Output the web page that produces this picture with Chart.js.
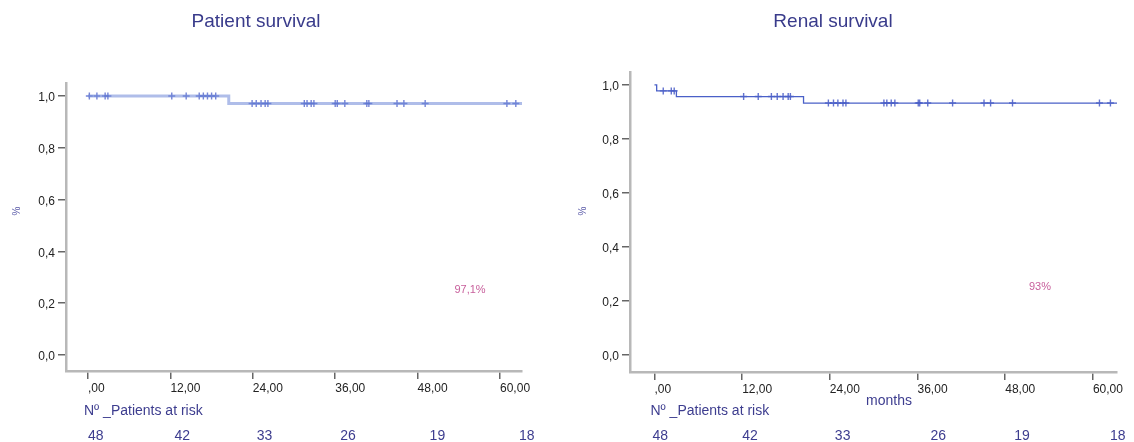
<!DOCTYPE html>
<html>
<head>
<meta charset="utf-8">
<script src="https://cdn.jsdelivr.net/npm/chart.js@4.4.1/dist/chart.umd.min.js"></script>
<style>
  body { margin: 0; background: #fff; }
  #wrap { position: relative; width: 1134px; height: 442px; overflow: hidden; }
  canvas { position: absolute; top: 0; }
</style>
</head>
<body>
<div id="wrap">
  <canvas id="patientChart" width="560" height="442" style="left:0px"></canvas>
  <canvas id="renalChart" width="567" height="442" style="left:567px"></canvas>
</div>
<script>
// axis ticks and the at-risk row (months)
const xTickValues = [0, 12, 24, 36, 48, 60];
const yTickValues = [0, 0.2, 0.4, 0.6, 0.8, 1.0];
const riskTimes = [0, 12, 24, 36, 48, 60];
const patientsAtRisk = [48, 42, 33, 26, 19, 18];

// Patient survival: Kaplan-Meier steps and censored times
const patientStepTimes = [0, 20.5, 63.2];
const patientStepSurv = [1.0, 0.971, 0.971];
const patientCensorTimes = [0.2, 1.3, 2.5, 2.9, 12.2, 14.3, 16.2, 16.8, 17.4, 18.0, 18.6,
  23.9, 24.5, 25.2, 25.8, 26.2, 31.5, 31.9, 32.5, 32.9, 36.0, 36.3, 37.4,
  40.6, 40.9, 45.0, 46.0, 49.1, 61.0, 62.3];

// Renal survival
const renalStepTimes = [0, 0.3, 3.0, 20.4, 63.3];
const renalStepSurv = [1.0, 0.978, 0.957, 0.933, 0.933];
const renalCensorTimes = [1.2, 2.3, 2.7, 12.2, 14.2, 16.0, 16.8, 17.6, 18.3, 18.6,
  23.8, 24.5, 25.1, 25.8, 26.2, 31.4, 31.8, 32.4, 32.9, 36.1, 36.3, 37.4,
  40.8, 45.1, 46.0, 49.0, 60.9, 62.4];

const FONT = "'Liberation Sans', Arial, Helvetica, sans-serif";
const TITLE_COLOR = '#393b8b';

// survival level in force at time t (value of the last step at or before t)
function survAt(times, surv, t) {
  let s = surv[0];
  for (let i = 0; i < times.length; i++) if (times[i] <= t) s = surv[i];
  return s;
}

// titles, % label, survival figure and the patients-at-risk row
const textPlugin = {
  id: 'kmText',
  afterDraw(chart, args, opts) {
    const ctx = chart.ctx;
    ctx.save();
    ctx.fillStyle = TITLE_COLOR;
    ctx.font = '19px ' + FONT;
    ctx.textAlign = 'center';
    ctx.textBaseline = 'alphabetic';
    ctx.fillText(opts.title, opts.titleX, 27);

    ctx.save();
    ctx.translate(opts.pctX, 211);
    ctx.rotate(-Math.PI / 2);
    ctx.font = '10px ' + FONT;
    ctx.fillStyle = '#5a5aa8';
    ctx.textBaseline = 'middle';
    ctx.fillText('%', 0, 0);
    ctx.restore();

    ctx.font = '11px ' + FONT;
    ctx.fillStyle = '#c8609c';
    ctx.textBaseline = 'middle';
    ctx.fillText(opts.label, opts.labelX, opts.labelY);

    ctx.textAlign = 'left';
    ctx.font = '14px ' + FONT;
    ctx.fillStyle = '#3d3d8f';
    if (opts.xTitle) {
      ctx.textAlign = 'center';
      ctx.fillText(opts.xTitle, opts.xTitleX, 401);
      ctx.textAlign = 'left';
    }
    const xs = chart.scales.x;
    ctx.fillText('Nº _Patients at risk', xs.getPixelForValue(0) - 4, 411);
    patientsAtRisk.forEach((n, i) => {
      const x = xs.getPixelForValue(riskTimes[i]) + opts.riskShift[i];
      ctx.fillText(String(n), x, 436);
    });
    ctx.restore();
  }
};

function makeChart(id, cfg) {
  const curve = cfg.times.map((t, i) => ({ x: t, y: cfg.surv[i] }));
  const censors = cfg.censor.map(t => ({ x: t, y: survAt(cfg.times, cfg.surv, t) }));
  return new Chart(document.getElementById(id), {
    type: 'scatter',
    data: {
      datasets: [
        {
          type: 'line',
          data: curve,
          stepped: 'before',
          borderColor: cfg.lineColor,
          borderWidth: cfg.lineWidth,
          pointRadius: 0,
          fill: false
        },
        {
          data: censors,
          pointStyle: 'cross',
          pointRadius: 3.5,
          borderWidth: 1.4,
          borderColor: cfg.markColor,
          backgroundColor: cfg.markColor
        }
      ]
    },
    options: {
      responsive: false,
      animation: false,
      devicePixelRatio: 1,
      layout: { padding: { left: 0, top: cfg.top, right: cfg.right, bottom: 0 } },
      plugins: {
        legend: { display: false },
        tooltip: { enabled: false },
        kmText: cfg.text
      },
      scales: {
        x: {
          type: 'linear',
          min: cfg.xMin,
          max: cfg.xMax,
          afterBuildTicks: s => { s.ticks = xTickValues.map(v => ({ value: v })); },
          afterFit: s => { s.height = cfg.xHeight; s.paddingLeft = 0; s.paddingRight = 0; },
          grid: { drawOnChartArea: false, drawTicks: true, tickLength: 8, color: '#666', lineWidth: 1.5 },
          border: { display: true, color: '#b8b8b8', width: 2.5 },
          ticks: {
            align: 'start',
            padding: 2,
            color: '#222',
            font: { family: FONT, size: 12 },
            maxRotation: 0,
            autoSkip: false,
            callback: v => v === 0 ? ',00' : v.toFixed(2).replace('.', ',')
          }
        },
        y: {
          type: 'linear',
          min: cfg.yMin,
          max: cfg.yMax,
          afterBuildTicks: s => { s.ticks = yTickValues.map(v => ({ value: v })); },
          afterFit: s => { s.width = cfg.yWidth; },
          grid: { drawOnChartArea: false, drawTicks: true, tickLength: 8, color: '#666', lineWidth: 1.5 },
          border: { display: true, color: '#b8b8b8', width: 2.5 },
          ticks: {
            padding: 3,
            labelOffset: 2,
            color: '#222',
            font: { family: FONT, size: 12 },
            autoSkip: false,
            callback: v => v.toFixed(1).replace('.', ',')
          }
        }
      }
    },
    plugins: [textPlugin]
  });
}

makeChart('patientChart', {
  times: patientStepTimes, surv: patientStepSurv, censor: patientCensorTimes,
  lineColor: 'rgba(110,135,215,0.55)', lineWidth: 3, markColor: 'rgba(70,90,200,0.75)',
  top: 83, right: 38, yWidth: 66, xHeight: 71,
  xMin: -3.2, xMax: 63.2, yMin: -0.062, yMax: 1.05,
  text: {
    title: 'Patient survival', titleX: 256, pctX: 17,
    label: '97,1%', labelX: 470, labelY: 290,
    riskShift: [0, 4, 4, 5, 12, 19]
  }
});

makeChart('renalChart', {
  times: renalStepTimes, surv: renalStepSurv, censor: renalCensorTimes,
  lineColor: '#4a60c8', lineWidth: 1.3, markColor: 'rgba(60,80,195,0.8)',
  top: 72, right: 17, yWidth: 63, xHeight: 70,
  xMin: -3.35, xMax: 63.3, yMin: -0.063, yMax: 1.048,
  text: {
    title: 'Renal survival', titleX: 266, pctX: 16,
    label: '93%', labelX: 473, labelY: 287,
    xTitle: 'months', xTitleX: 322,
    riskShift: [-2, 0, 5, 13, 9, 17]
  }
});
</script>
</body>
</html>
